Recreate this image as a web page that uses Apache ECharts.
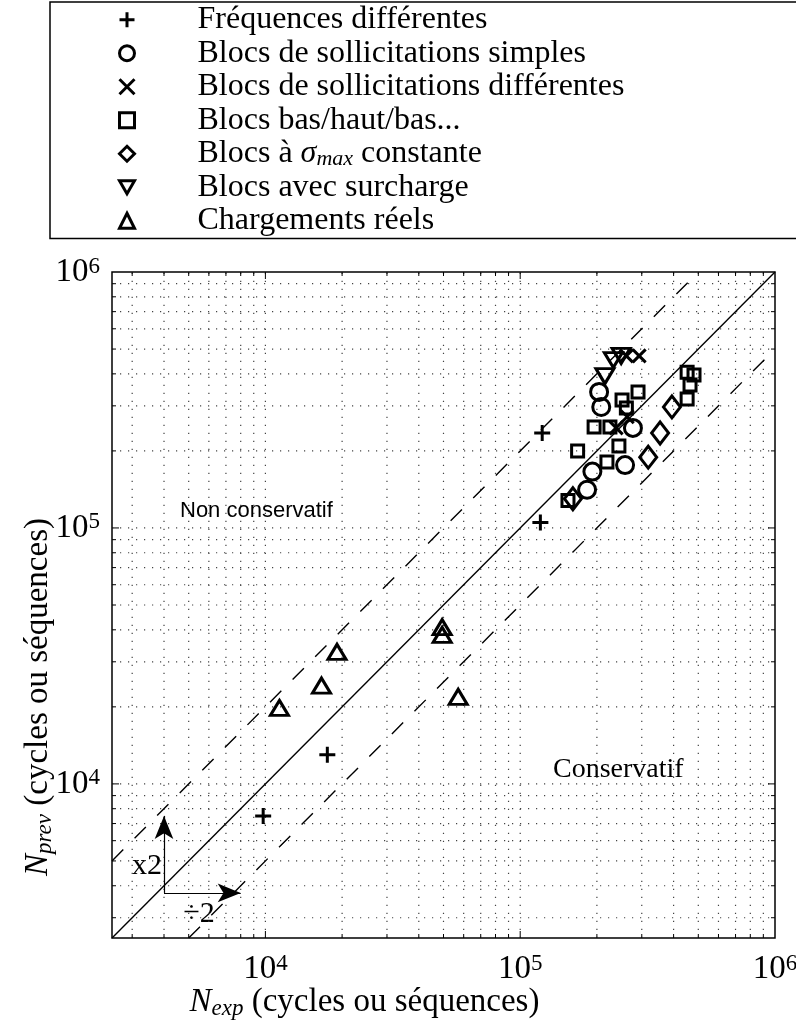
<!DOCTYPE html>
<html>
<head>
<meta charset="utf-8">
<script src="https://cdn.jsdelivr.net/npm/echarts@6/dist/echarts.min.js"></script>
<style>
html, body { margin: 0; padding: 0; background: #fff; }
#main { width: 796px; height: 1021px; }
</style>
</head>
<body>
<div id="main"></div>
<script>
var names = ['Fréquences différentes', 'Blocs de sollicitations simples', 'Blocs de sollicitations différentes',
    'Blocs bas/haut/bas...', 'Blocs à σmax constante', 'Blocs avec surcharge', 'Chargements réels'];

// [N_exp, N_prev]
var frequences = [[1.22e5, 2.35e5], [1.2e5, 1.05e5], [1.75e4, 1.3e4], [9800, 7500]];
var blocsSimples = [[2.04e5, 3.4e5], [2.08e5, 2.97e5], [2.77e5, 2.46e5], [2.58e5, 1.76e5],
    [1.92e5, 1.66e5], [1.83e5, 1.41e5]];
var blocsDifferentes = [[2.61e5, 4.7e5], [2.93e5, 4.7e5], [2.63e5, 2.72e5], [2.38e5, 2.46e5]];
var blocsBasHaut = [[2.51e5, 3.16e5], [2.9e5, 3.4e5], [2.61e5, 2.94e5], [1.95e5, 2.48e5], [2.25e5, 2.48e5],
    [1.68e5, 2.0e5], [2.44e5, 2.09e5], [2.19e5, 1.81e5], [1.54e5, 1.28e5],
    [4.52e5, 4.06e5], [4.81e5, 3.96e5], [4.64e5, 3.62e5], [4.52e5, 3.19e5]];
var blocsSigma = [[3.94e5, 2.97e5], [3.54e5, 2.35e5], [3.18e5, 1.89e5], [1.61e5, 1.3e5]];
var blocsSurcharge = [[2.32e5, 4.53e5], [2.49e5, 4.7e5], [2.15e5, 3.92e5]];
var chargementsReels = [[1.135e4, 1.98e4], [1.66e4, 2.42e4], [1.91e4, 3.28e4], [4.94e4, 4.1e4],
    [4.94e4, 3.82e4], [5.71e4, 2.19e4]];

var axisMin = 2500, axisMax = 1e6;
var gridValues = [3000, 4000, 5000, 6000, 7000, 8000, 9000,
    10000, 20000, 30000, 40000, 50000, 60000, 70000, 80000, 90000,
    100000, 200000, 300000, 400000, 500000, 600000, 700000, 800000, 900000];

var lineEqual = [[2500, 2500], [1e6, 1e6]];
var lineTimes2 = [[2500, 5000], [5e5, 1e6]];
var lineDiv2 = [[5000, 2500], [1e6, 5e5]];
var arrowBase = [4000, 3750], arrowUpTip = [4000, 7500], arrowRightTip = [8000, 3750];

var serif = 'Liberation Serif';
var myChart = echarts.init(document.getElementById('main'));

function isDecade(v) {
    var l = Math.log10(v);
    return Math.abs(l - Math.round(l)) < 1e-6;
}

function powLabel(v) {
    if (!isDecade(v)) return '';
    return '{b|10}{s|' + Math.round(Math.log10(v)) + '}';
}

var labelRich = {
    b: { fontFamily: serif, fontSize: 33, color: '#000', lineHeight: 34 },
    s: { fontFamily: serif, fontSize: 23, color: '#000', verticalAlign: 'top', lineHeight: 18 }
};

function nameRich() {
    return {
        i: { fontFamily: serif, fontStyle: 'italic', fontSize: 33, color: '#000', lineHeight: 36 },
        sub: { fontFamily: serif, fontStyle: 'italic', fontSize: 23, color: '#000', verticalAlign: 'bottom', lineHeight: 24 },
        t: { fontFamily: serif, fontSize: 33, color: '#000', lineHeight: 36 }
    };
}

// grid + ticks drawn through the axis scales
function gridItem(vertical) {
    return function (params, api) {
        var v = api.value(vertical ? 0 : 1);
        var p0, p1, t = isDecade(v) ? 7 : 4;
        var kids = [];
        if (vertical) {
            p0 = api.coord([v, axisMin]);
            p1 = api.coord([v, axisMax]);
            kids.push({ type: 'line', shape: { x1: p0[0], y1: p0[1], x2: p0[0], y2: p0[1] - t }, style: { stroke: '#000', lineWidth: 1 } });
            kids.push({ type: 'line', shape: { x1: p1[0], y1: p1[1], x2: p1[0], y2: p1[1] + t }, style: { stroke: '#000', lineWidth: 1 } });
        } else {
            p0 = api.coord([axisMin, v]);
            p1 = api.coord([axisMax, v]);
            kids.push({ type: 'line', shape: { x1: p0[0], y1: p0[1], x2: p0[0] + t, y2: p0[1] }, style: { stroke: '#000', lineWidth: 1 } });
            kids.push({ type: 'line', shape: { x1: p1[0], y1: p1[1], x2: p1[0] - t, y2: p1[1] }, style: { stroke: '#000', lineWidth: 1 } });
        }
        kids.unshift({ type: 'line', shape: { x1: p0[0], y1: p0[1], x2: p1[0], y2: p1[1] },
            style: { stroke: '#444', lineWidth: 1.2, lineDash: [1.2, 6.8] } });
        return { type: 'group', children: kids };
    };
}

var hollow = { color: 'transparent', borderColor: '#000', borderWidth: 3, opacity: 1 };
var plusPath = 'path://M5,0L5,10M0,5L10,5';
var crossPath = 'path://M0,0L10,10M10,0L0,10';
var triDownPath = 'path://M0,0L10,0L5,8.7Z';

function scatter(name, data, symbol, size) {
    return {
        name: name, type: 'scatter', data: data, symbol: symbol, symbolSize: size,
        itemStyle: hollow, z: 5, silent: true
    };
}

var option = {
    animation: false,
    backgroundColor: '#fff',
    grid: { left: 112, right: 21, top: 272, bottom: 83, show: true, borderColor: '#000', borderWidth: 1.5,
        containLabel: false, outerBoundsMode: 'none' },
    legend: {
        orient: 'vertical', left: 50, top: 2,
        data: names,
        itemWidth: 15, itemHeight: 15, itemGap: 0,
        padding: [1, 200, 1, 68],
        borderColor: '#000', borderWidth: 1.5, backgroundColor: '#fff',
        selectedMode: false,
        itemStyle: { borderWidth: 3, borderColor: '#000', opacity: 1 },
        textStyle: {
            fontFamily: serif, fontSize: 32, lineHeight: 33.5, color: '#000', padding: [0, 0, 0, 58],
            rich: {
                t: { fontFamily: serif, fontSize: 32, lineHeight: 33.5, color: '#000' },
                s: { fontFamily: serif, fontSize: 32, fontStyle: 'italic', lineHeight: 33.5, color: '#000' },
                sub: { fontFamily: serif, fontSize: 22, fontStyle: 'italic', verticalAlign: 'bottom', lineHeight: 17, color: '#000' }
            }
        },
        formatter: function (n) {
            if (n === 'Blocs à σmax constante') return '{t|Blocs à }{s|σ}{sub|max}{t| constante}';
            return '{t|' + n + '}';
        }
    },
    xAxis: {
        type: 'log', logBase: 10, min: axisMin, max: axisMax,
        axisLine: { show: false }, axisTick: { show: false }, splitLine: { show: false },
        axisLabel: { formatter: powLabel, rich: labelRich, margin: 14, showMinLabel: false },
        name: '{i|N}{sub|exp}{t| (cycles ou séquences)}',
        nameLocation: 'middle', nameGap: 46, nameMoveOverlap: false,
        nameTextStyle: { rich: nameRich(), padding: [0, 158, 0, 0] }
    },
    yAxis: {
        type: 'log', logBase: 10, min: axisMin, max: axisMax,
        axisLine: { show: false }, axisTick: { show: false }, splitLine: { show: false },
        axisLabel: { formatter: powLabel, rich: labelRich, margin: 12, showMinLabel: false },
        name: '{i|N}{sub|prev}{t| (cycles ou séquences)}',
        nameLocation: 'middle', nameGap: 56, nameMoveOverlap: false,
        nameTextStyle: { rich: nameRich(), padding: [0, 184, 0, 0] }
    },
    graphic: [
        { type: 'text', x: 147, y: 866, style: { text: 'x2', font: '30px "Liberation Serif"', fill: '#000', align: 'center', verticalAlign: 'middle' } },
        { type: 'text', x: 199, y: 914, style: { text: '÷2', font: '30px "Liberation Serif"', fill: '#000', align: 'center', verticalAlign: 'middle' } },
        { type: 'text', x: 180, y: 511, style: { text: 'Non conservatif', font: '22px "Liberation Sans"', fill: '#000', align: 'left', verticalAlign: 'middle' } },
        { type: 'text', x: 553, y: 770, style: { text: 'Conservatif', font: '28px "Liberation Serif"', fill: '#000', align: 'left', verticalAlign: 'middle' } }
    ],
    series: [
        { type: 'custom', silent: true, z: 1, data: gridValues.map(function (v) { return [v, axisMin]; }), renderItem: gridItem(true) },
        { type: 'custom', silent: true, z: 1, data: gridValues.map(function (v) { return [axisMin, v]; }), renderItem: gridItem(false) },
        {
            type: 'line', data: lineEqual, showSymbol: false, silent: true, z: 3,
            lineStyle: { color: '#000', width: 1.4 },
            markLine: {
                silent: true, symbol: ['none', 'arrow'], symbolSize: [14, 23],
                lineStyle: { color: '#000', width: 1.2, type: 'solid' },
                label: { show: false },
                data: [[{ coord: arrowBase }, { coord: arrowUpTip }], [{ coord: arrowBase }, { coord: arrowRightTip }]]
            }
        },
        { type: 'line', data: lineTimes2, showSymbol: false, silent: true, z: 3, lineStyle: { color: '#000', width: 1.4, type: [16, 16] } },
        { type: 'line', data: lineDiv2, showSymbol: false, silent: true, z: 3, lineStyle: { color: '#000', width: 1.4, type: [16, 16] } },
        scatter(names[0], frequences, plusPath, 16),
        scatter(names[1], blocsSimples, 'circle', 17),
        scatter(names[2], blocsDifferentes, crossPath, 13),
        scatter(names[3], blocsBasHaut, 'rect', 12),
        scatter(names[4], blocsSigma, 'diamond', [17, 22]),
        scatter(names[5], blocsSurcharge, triDownPath, [18, 15]),
        scatter(names[6], chargementsReels, 'triangle', [18, 15])
    ]
};

myChart.setOption(option);
</script>
</body>
</html>
